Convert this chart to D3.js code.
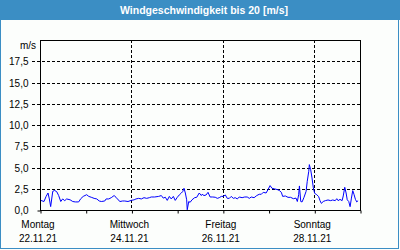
<!DOCTYPE html>
<html>
<head>
<meta charset="utf-8">
<script src="https://cdn.jsdelivr.net/npm/d3@7"></script>
<style>
  body { margin: 0; background: #fcfefc; }
  svg { display: block; font-family: "Liberation Sans", Arial, sans-serif; }
</style>
</head>
<body>
<svg id="chart" width="400" height="250"></svg>
<script>
// Stunden seit Montag 22.11.21 00:00 und Windgeschwindigkeit in m/s
const hours = [
  0.4, 2.1, 3.2, 4.2, 4.9, 5.6, 6.7, 7.7, 8.8, 9.8, 10.9, 11.9, 13.0, 14.0, 15.8, 17.2, 18.5, 20.3,
  21.4, 22.7, 24.5, 25.6, 26.9, 28.4, 29.8, 31.1, 32.2, 34.0, 34.7, 36.1, 37.4, 38.9, 39.9, 41.0,
  42.0, 43.4, 44.5, 46.2, 47.9, 49.4, 50.4, 51.8, 53.2, 54.6, 56.0, 57.4, 58.4, 60.2, 62.3, 63.7,
  64.7, 65.8, 66.8, 67.9, 68.9, 70.0, 71.0, 72.1, 73.1, 74.2, 74.9, 75.6, 76.3, 77.0, 77.3, 78.1,
  78.8, 79.8, 81.2, 82.3, 83.6, 84.7, 85.1, 86.1, 87.2, 88.2, 89.3, 90.7, 92.0, 93.1, 94.1, 95.2,
  96.2, 97.3, 98.3, 99.4, 100.4, 101.5, 102.5, 103.6, 104.6, 106.1, 107.5, 108.8, 109.9, 110.9,
  112.4, 113.8, 115.1, 116.2, 117.2, 118.7, 119.7, 120.8, 121.8, 123.2, 124.6, 125.6, 126.7, 127.4,
  128.8, 130.2, 131.6, 133.0, 134.4, 135.1, 135.8, 136.2, 136.9, 137.6, 138.6, 139.7, 140.3, 141.1,
  141.4, 142.1, 142.8, 143.5, 144.2, 145.3, 146.3, 147.0, 147.7, 148.7, 149.8, 151.2, 152.6, 153.7,
  155.0, 155.8, 156.5, 157.5, 158.6, 159.2, 160.0, 160.7, 161.3, 162.1, 162.8, 163.5, 164.2, 164.9,
  165.6, 166.3, 167.0
];
const speeds = [
  1.13, 1.0, 1.6, 2.0, 1.3, 0.4, 2.2, 2.3, 2.15, 1.7, 1.0, 1.3, 1.1, 1.3, 1.2, 1.0, 0.95, 0.95,
  1.33, 1.6, 1.8, 1.6, 1.5, 1.37, 1.3, 1.06, 1.0, 1.06, 1.3, 1.3, 1.45, 1.7, 1.5, 1.2,
  1.0, 1.06, 1.06, 1.0, 1.13, 1.2, 1.3, 1.37, 1.3, 1.45, 1.37, 1.45, 1.53, 1.53, 1.6, 1.7,
  1.4, 1.5, 1.13, 1.6, 1.3, 1.6, 1.13, 1.5, 1.77, 2.0, 2.16, 2.55, 2.0, 1.2, 0.03, 1.0,
  0.9, 1.2, 1.45, 1.5, 2.0, 1.7, 1.85, 1.7, 1.77, 2.08, 1.53, 1.53, 1.5, 1.37, 1.45, 1.6,
  1.6, 1.77, 1.37, 1.37, 1.6, 1.37, 1.45, 1.3, 1.53, 1.45, 1.53, 1.53, 1.37, 1.53,
  1.45, 1.7, 1.85, 1.85, 2.08, 2.0, 2.4, 2.87, 2.55, 2.48, 2.4, 2.3, 2.08, 1.6,
  1.65, 1.49, 1.49, 1.33, 1.4, 1.0, 1.8, 2.83, 1.0, 0.95, 1.49, 2.2, 3.37, 4.55,
  5.34, 4.75, 3.77, 2.6, 1.96, 1.8, 1.57, 1.1, 0.78, 1.0, 1.1, 1.18, 1.1, 1.18,
  1.1, 1.33, 1.1, 1.25, 1.1, 1.65, 2.67, 2.0, 1.2, 1.0, 0.39, 1.4, 2.28, 1.8,
  1.25, 0.95, 1.1
];
const yTicks = [0, 2.5, 5, 7.5, 10, 12.5, 15, 17.5];
const dayNames = ['Montag', 'Mittwoch', 'Freitag', 'Sonntag'];
const dayDates = ['22.11.21', '24.11.21', '26.11.21', '28.11.21'];
const chartTitle = 'Windgeschwindigkeit bis 20 [m/s]';

const start = new Date(2021, 10, 22);
const end = d3.timeDay.offset(start, 7);
const data = hours.map((h, i) => ({ t: new Date(start.getTime() + h * 3600e3), v: speeds[i] }));
const labelDays = dayNames.map((d, i) => d3.timeDay.offset(start, i * 2));

const plotLeft = 40, plotRight = 360, plotTop = 40, plotBottom = 210;
const blue = '#3b8ec4';

const svg = d3.select('#chart');

// Rahmen und Titelleiste
svg.append('rect')
  .attr('x', 0.5).attr('y', 0.5).attr('width', 398).attr('height', 248)
  .attr('fill', '#fcfefc').attr('stroke', blue);
svg.append('rect')
  .attr('x', 0).attr('y', 0).attr('width', 400).attr('height', 20)
  .attr('fill', blue);
svg.append('text')
  .attr('x', 204).attr('y', 14)
  .attr('text-anchor', 'middle')
  .attr('fill', '#fff')
  .style('font-weight', 'bold')
  .style('font-size', '10.5px')
  .text(chartTitle);

const x = d3.scaleTime().domain([start, end]).range([plotLeft, plotRight]);
const y = d3.scaleLinear().domain([0, 20]).range([plotBottom, plotTop]);
const py = v => Math.round(y(v)) + 0.5;

// horizontale Gitterlinien (gestrichelt, ragen links etwas heraus)
svg.append('g')
  .selectAll('line')
  .data(yTicks.filter(v => v > 0))
  .join('line')
  .attr('x1', 32).attr('x2', plotRight)
  .attr('y1', d => py(d)).attr('y2', d => py(d))
  .attr('stroke', '#000')
  .attr('stroke-dasharray', '3,2');

// vertikale Gitterlinien an beschrifteten Tagen
svg.append('g')
  .selectAll('line')
  .data(labelDays.slice(1))
  .join('line')
  .attr('x1', d => Math.round(x(d)) + 0.5).attr('x2', d => Math.round(x(d)) + 0.5)
  .attr('y1', plotTop).attr('y2', plotBottom)
  .attr('stroke', '#000')
  .attr('stroke-dasharray', '3,2');

// y-Achse Beschriftung
const yAxis = d3.axisLeft(y)
  .tickValues(yTicks)
  .tickFormat(d => d.toFixed(1).replace('.', ','))
  .tickSizeInner(3).tickSizeOuter(0).tickPadding(9);
const gy = svg.append('g')
  .attr('transform', `translate(${plotLeft + 0.5},0.5)`)
  .call(yAxis);
gy.select('.domain').remove();
gy.selectAll('.tick line').attr('stroke', d => d === 0 ? '#000' : 'none');
gy.selectAll('.tick text')
  .attr('fill', '#000')
  .style('font-size', '10px')
  .style('font-family', '"Liberation Sans", Arial, sans-serif');

svg.append('text')
  .attr('x', 36).attr('y', 49)
  .attr('text-anchor', 'end')
  .style('font-size', '10px')
  .text('m/s');

// x-Achse mit Tagesstrichen
const xAxis = d3.axisBottom(x)
  .ticks(d3.timeDay.every(1))
  .tickFormat('')
  .tickSizeInner(3).tickSizeOuter(0);
const gx = svg.append('g')
  .attr('transform', `translate(0.5,${plotBottom + 0.5})`)
  .call(xAxis);
gx.select('.domain').remove();
gx.selectAll('.tick line').attr('stroke', '#000');

const labels = svg.append('g')
  .style('font-size', '10px')
  .attr('text-anchor', 'middle');
labels.selectAll('text.day')
  .data(labelDays)
  .join('text')
  .attr('class', 'day')
  .attr('x', d => x(d) - 2)
  .attr('y', 228)
  .text((d, i) => dayNames[i]);
labels.selectAll('text.date')
  .data(labelDays)
  .join('text')
  .attr('class', 'date')
  .attr('x', d => x(d) - 2)
  .attr('y', 242)
  .text((d, i) => dayDates[i]);

// Windlinie
const line = d3.line()
  .x(d => x(d.t))
  .y(d => y(d.v));
svg.append('path')
  .datum(data)
  .attr('fill', 'none')
  .attr('stroke', '#0000ff')
  .attr('stroke-width', 1)
  .attr('d', line);

// Plotrahmen
svg.append('rect')
  .attr('x', plotLeft + 0.5).attr('y', plotTop + 0.5)
  .attr('width', plotRight - plotLeft).attr('height', plotBottom - plotTop)
  .attr('fill', 'none')
  .attr('stroke', '#000');
</script>
</body>
</html>
